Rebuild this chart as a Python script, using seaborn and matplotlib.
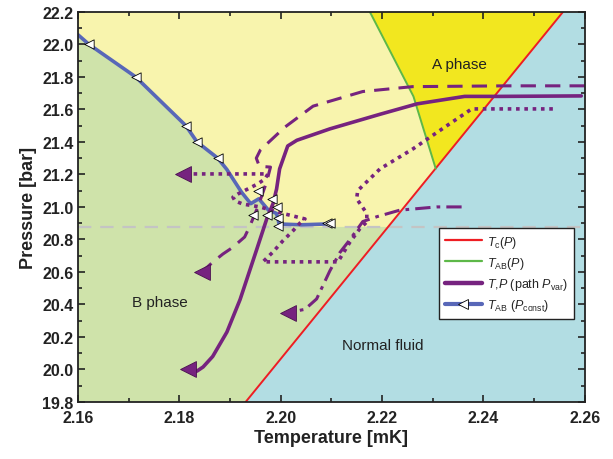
import matplotlib
matplotlib.use("Agg")
import matplotlib.pyplot as plt
from matplotlib.lines import Line2D
import seaborn as sns

# phase boundaries
tc_T = [2.1931, 2.2557]
tc_P = [19.8, 22.2]
tab_T = [2.2176, 2.2262, 2.2306]
tab_P = [22.2, 21.68, 21.235]
b_edge_P = 20.877   # supercooled boundary (grey dashed)

# T_AB measured at constant pressure
tabc_T = [2.1600, 2.1622, 2.1714, 2.1780, 2.1813, 2.1835, 2.1876, 2.1894, 2.1923,
          2.1941, 2.1957, 2.1976, 2.1992, 2.1997, 2.2040, 2.2091]
tabc_P = [22.06, 22.00, 21.80, 21.60, 21.50, 21.40, 21.30, 21.23, 21.09,
          21.02, 21.05, 20.98, 20.96, 20.895, 20.89, 20.895]
mk_T = [2.1622, 2.1714, 2.1813, 2.1835, 2.1876, 2.1955, 2.1983, 2.1993,
        2.1945, 2.1973, 2.1994, 2.1994, 2.2091, 2.2097]
mk_P = [22.0, 21.8, 21.5, 21.4, 21.3, 21.1, 21.05, 21.0,
        20.95, 20.95, 20.93, 20.88, 20.90, 20.90]

# T,P paths with variable pressure
solid_T = [2.2593, 2.2432, 2.2363, 2.2269, 2.2196, 2.2097, 2.2032, 2.2014, 2.1998,
           2.1992, 2.1985, 2.1973, 2.1953, 2.1920, 2.1894, 2.1866, 2.1847, 2.1835, 2.1817]
solid_P = [21.683, 21.68, 21.68, 21.634, 21.57, 21.48, 21.41, 21.375, 21.234,
           21.11, 21.02, 20.93, 20.74, 20.43, 20.23, 20.08, 20.015, 19.99, 20.0]
dash_T = [2.2600, 2.2446, 2.2260, 2.2162, 2.2064, 2.2008, 2.1960, 2.1952, 2.1958,
          2.1980, 2.1972, 2.1955, 2.1939, 2.1929, 2.1905, 2.1886, 2.1866, 2.1845]
dash_P = [21.745, 21.745, 21.74, 21.71, 21.62, 21.49, 21.35, 21.30, 21.25,
          21.245, 21.15, 21.0, 20.88, 20.815, 20.75, 20.71, 20.66, 20.60]
dot_T = [2.2537, 2.2377, 2.2328, 2.2261, 2.2196, 2.2152, 2.2150, 2.2170, 2.2170,
         2.2156, 2.2137, 2.2113, 2.1965, 2.1985, 2.2004, 2.2024, 2.2038, 2.2048,
         2.2008, 2.1959, 2.1925, 2.1910, 2.1906, 2.1916, 2.1935, 2.1955, 2.1969,
         2.1975, 2.1821, 2.1807]
dot_P = [21.603, 21.603, 21.50, 21.357, 21.234, 21.10, 21.05, 20.96, 20.908,
         20.865, 20.785, 20.662, 20.662, 20.723, 20.79, 20.852, 20.90, 20.926,
         20.957, 21.0, 21.018, 21.037, 21.06, 21.08, 21.11, 21.142, 21.172,
         21.203, 21.203, 21.2]
dd_T = [2.2357, 2.2308, 2.2235, 2.2190, 2.2162, 2.2137, 2.2117, 2.2097, 2.2071,
        2.2048, 2.2015]
dd_P = [21.0, 21.0, 20.98, 20.94, 20.91, 20.80, 20.72, 20.606, 20.434, 20.37, 20.35]
end_T = [2.1807, 2.1845, 2.2015, 2.1817]
end_P = [21.2, 20.6, 20.35, 20.0]

light_blue = '#b2dde3'
light_yellow = '#f8f4ad'
a_yellow = '#f2e71f'
light_green = '#cfe3aa'
red = '#ee1d23'
green = '#5db848'
purple = '#76237f'
blue = '#5867b8'

sns.set_style("ticks")
plt.rcParams['font.family'] = ['Liberation Sans', 'DejaVu Sans']
plt.rcParams['mathtext.fontset'] = 'custom'
plt.rcParams['mathtext.it'] = 'Liberation Sans:italic'
plt.rcParams['mathtext.rm'] = 'Liberation Sans'

fig, ax = plt.subplots(figsize=(6.13, 4.6), dpi=100)
fig.subplots_adjust(left=0.127, right=0.954, bottom=0.124, top=0.972)

xmin, xmax, ymin, ymax = 2.16, 2.26, 19.8, 22.2
ax.set_facecolor(light_blue)

# regions
ax.fill([xmin, tc_T[0], tc_T[1], xmin], [ymin, ymin, ymax, ymax],
        color=light_yellow, lw=0, zorder=0)
ax.fill(tab_T + [tc_T[1]], tab_P + [tc_P[1]], color=a_yellow, lw=0, zorder=0)
t_edge = tc_T[0] + (b_edge_P - tc_P[0]) * (tc_T[1] - tc_T[0]) / (tc_P[1] - tc_P[0])
gx = [xmin, tc_T[0], t_edge] + [t for t, p in zip(tabc_T, tabc_P) if p > 20.93][::-1]
gy = [ymin, ymin, b_edge_P] + [p for p in tabc_P if p > 20.93][::-1]
gx.insert(3, tabc_T[13])
gy.insert(3, b_edge_P)
ax.fill(gx, gy, color=light_green, lw=0, zorder=0)

ax.axhline(b_edge_P, color='#c4c4c4', lw=1.6, dashes=(6, 4), zorder=1)

sns.lineplot(x=tc_T, y=tc_P, color=red, lw=1.4, sort=False, estimator=None, ax=ax, zorder=3)
sns.lineplot(x=tab_T, y=tab_P, color=green, lw=1.4, sort=False, estimator=None, ax=ax, zorder=3)

sns.lineplot(x=tabc_T, y=tabc_P, color=blue, lw=2.6, sort=False, estimator=None, ax=ax, zorder=4)

sns.lineplot(x=solid_T, y=solid_P, color=purple, lw=2.6, sort=False, estimator=None, ax=ax, zorder=5)
l = sns.lineplot(x=dash_T, y=dash_P, color=purple, lw=2.2, sort=False, estimator=None, ax=ax, zorder=5).lines[-1]
l.set_dashes((5, 3))
l = sns.lineplot(x=dot_T, y=dot_P, color=purple, lw=2.6, sort=False, estimator=None, ax=ax, zorder=5).lines[-1]
l.set_dashes((1.0, 1.3))
l = sns.lineplot(x=dd_T, y=dd_P, color=purple, lw=2.2, sort=False, estimator=None, ax=ax, zorder=5).lines[-1]
l.set_dashes((5, 2, 1.2, 2))

sns.scatterplot(x=mk_T, y=mk_P, marker='<', s=45, color='white', edgecolor='black',
                linewidth=0.6, ax=ax, zorder=6)
sns.scatterplot(x=end_T, y=end_P, marker='<', s=130, color=purple, edgecolor='#4a1050',
                linewidth=0.6, ax=ax, zorder=6)

ax.text(2.2353, 21.88, "A phase", fontsize=11, ha='center', va='center', color='#222222')
ax.text(2.1762, 20.415, "B phase", fontsize=11, ha='center', va='center', color='#222222')
ax.text(2.2202, 20.15, "Normal fluid", fontsize=11, ha='center', va='center', color='#222222')

ax.set_xlim(xmin, xmax)
ax.set_ylim(ymin, ymax)
ax.set_xticks([2.16, 2.18, 2.20, 2.22, 2.24, 2.26])
ax.set_xticks([2.17, 2.19, 2.21, 2.23, 2.25], minor=True)
ax.set_yticks([19.8 + 0.2 * i for i in range(13)])
ax.set_yticks([19.9 + 0.2 * i for i in range(12)], minor=True)
ax.set_xticklabels([f"{v:.2f}" for v in ax.get_xticks()])
ax.set_yticklabels([f"{v:.1f}" for v in ax.get_yticks()])
ax.tick_params(which='both', direction='in', top=True, right=True, width=1.2,
               colors='#222222', labelsize=11.5)
ax.tick_params(axis='x', which='both', pad=6)
ax.tick_params(axis='y', which='both', pad=3)
ax.tick_params(which='major', length=5)
ax.tick_params(which='minor', length=3)
for lab in ax.get_xticklabels() + ax.get_yticklabels():
    lab.set_fontweight('bold')
for sp in ax.spines.values():
    sp.set_linewidth(1.3)
    sp.set_color('#222222')
    sp.set_zorder(10)

ax.set_xlabel("Temperature [mK]", fontsize=13, fontweight='bold', color='#222222', labelpad=3)
ax.set_ylabel("Pressure [bar]", fontsize=13, fontweight='bold', color='#222222', labelpad=4)

handles = [
    Line2D([], [], color=red, lw=1.6),
    Line2D([], [], color=green, lw=1.6),
    Line2D([], [], color=purple, lw=3.2),
    Line2D([], [], color=blue, lw=3.0, marker='<', markersize=7,
           markerfacecolor='white', markeredgecolor='black', markeredgewidth=0.6),
]
labels = [r"$T_\mathrm{c}(P)$", r"$T_\mathrm{AB}(P)$", r"$T$,$P$ (path $P_\mathrm{var}$)",
          r"$T_\mathrm{AB}$ ($P_\mathrm{const}$)"]
leg = ax.legend(handles, labels, loc='upper left', bbox_to_anchor=(0.700, 0.462),
                fontsize=9, frameon=True, fancybox=False, edgecolor='#222222',
                framealpha=1, borderpad=0.45, handlelength=3.0, labelspacing=0.42,
                handletextpad=0.4)
leg.get_frame().set_linewidth(1.0)
leg.set_zorder(20)

fig.savefig("out.png", dpi=100)
